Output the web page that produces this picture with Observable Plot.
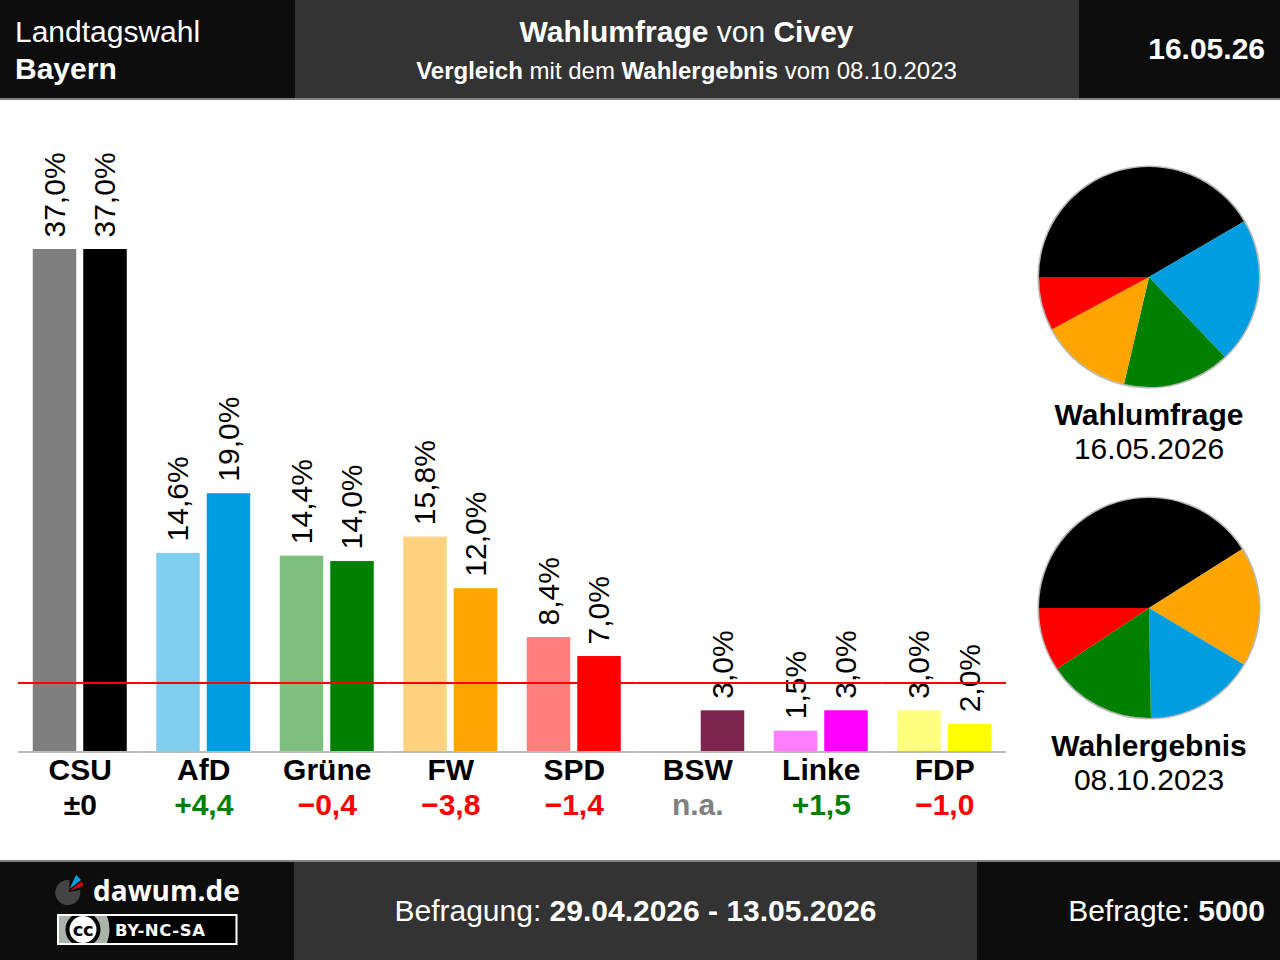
<!DOCTYPE html>
<html lang="de">
<head>
<meta charset="utf-8">
<title>Landtagswahl Bayern</title>
<script src="https://cdn.jsdelivr.net/npm/d3@7"></script>
<script src="https://cdn.jsdelivr.net/npm/@observablehq/plot@0.6"></script>
<style>
  html, body { margin: 0; padding: 0; background: #fff; }
  #page { position: relative; width: 1280px; height: 960px; overflow: hidden; font-family: "Liberation Sans", Arial, sans-serif; color: #000; }
  .panel { position: absolute; box-sizing: border-box; }
  .dark { background: #0d0d0d; }
  .mid { background: #333; }
  .t { position: absolute; white-space: nowrap; font-size: 30px; line-height: 36px; color: #fff; }
  .t.c { transform: translateX(-50%); text-align: center; }
  .t.r { right: 15px; }
  #bars, .pie { position: absolute; }
  #bars svg, .pie svg { display: block; }
</style>
</head>
<body>
<div id="page">
  <div class="panel dark" style="left:0;top:0;width:295px;height:98px"></div>
  <div class="panel mid" style="left:295px;top:0;width:784px;height:98px"></div>
  <div class="panel dark" style="left:1079px;top:0;width:201px;height:98px"></div>
  <div class="panel" style="left:0;top:98px;width:1280px;height:2px;background:#808080"></div>

  <div class="t" style="left:15px;top:14px">Landtagswahl</div>
  <div class="t" style="left:15px;top:51px"><b>Bayern</b></div>
  <div class="t c" style="left:686.5px;top:14px"><b>Wahlumfrage</b> von <b>Civey</b></div>
  <div class="t c" style="left:686.5px;top:53px;font-size:24px"><b>Vergleich</b> mit dem <b>Wahlergebnis</b> vom 08.10.2023</div>
  <div class="t r" style="top:31px"><b>16.05.26</b></div>

  <div id="bars" style="left:0;top:100px"></div>
  <div id="pieNow" class="pie" style="left:1034px;top:162px"></div>
  <div id="pieThen" class="pie" style="left:1034px;top:493px"></div>

  <div class="t c" style="left:1149px;top:397px;color:#000"><b>Wahlumfrage</b></div>
  <div class="t c" style="left:1149px;top:431px;color:#000">16.05.2026</div>
  <div class="t c" style="left:1149px;top:728px;color:#000"><b>Wahlergebnis</b></div>
  <div class="t c" style="left:1149px;top:762px;color:#000">08.10.2023</div>

  <div class="panel" style="left:0;top:860px;width:1280px;height:2px;background:#808080"></div>
  <div class="panel dark" style="left:0;top:862px;width:294px;height:98px"></div>
  <div class="panel mid" style="left:294px;top:862px;width:683px;height:98px"></div>
  <div class="panel dark" style="left:977px;top:862px;width:303px;height:98px"></div>

  <svg style="position:absolute;left:0;top:862px" width="294" height="98" viewBox="0 862 294 98">
    <defs><clipPath id="badge"><rect x="59" y="916" width="176.5" height="27"/></clipPath></defs>
    <path d="M69 892 L69.5 880.2 A12.5 12.5 0 1 0 80 890 Z" fill="#444"/>
    <path d="M69.5 889 L76 875 L81 880 Z" fill="#009ee0"/>
    <path d="M69.5 891 L81.5 881.5 L83.5 885.5 Z" fill="#e3000f"/>
    <text x="93" y="901" font-family="'Open Sans'" font-weight="700" font-size="28" fill="#fff">dawum.de</text>
    <rect x="58" y="915" width="178.5" height="29" fill="#000" stroke="#fff" stroke-width="2"/>
    <g clip-path="url(#badge)">
      <path d="M59 916 H107 Q112 929.5 107 943 H59 Z" fill="#aab2ab"/>
      <circle cx="83" cy="929.5" r="17.5" fill="#000"/>
      <circle cx="83" cy="929.5" r="13.5" fill="#fff"/>
    </g>
    <text x="83" y="935.5" text-anchor="middle" font-family="DejaVu Sans" font-weight="700" font-size="18" letter-spacing="-0.5" fill="#000">cc</text>
    <text x="115" y="936" font-family="DejaVu Sans" font-weight="700" font-size="16.5" letter-spacing="0.6" fill="#fff">BY-NC-SA</text>
  </svg>

  <div class="t c" style="left:635.5px;top:893px">Befragung: <b>29.04.2026 - 13.05.2026</b></div>
  <div class="t r" style="top:893px">Befragte: <b>5000</b></div>
</div>

<script>
const parties = ["CSU", "AfD", "Grüne", "FW", "SPD", "BSW", "Linke", "FDP"];
const colors = ["#000000", "#009ee0", "#008000", "#ffa500", "#ff0000", "#7d254f", "#ff00ff", "#ffff00"];
const result2023 = [37.0, 14.6, 14.4, 15.8, 8.4, null, 1.5, 3.0];
const poll2026 = [37.0, 19.0, 14.0, 12.0, 7.0, 3.0, 3.0, 2.0];
const changes = ["±0", "+4,4", "−0,4", "−3,8", "−1,4", "n.a.", "+1,5", "−1,0"];
const changeColors = ["#000000", "#008000", "#ff0000", "#ff0000", "#ff0000", "#808080", "#008000", "#ff0000"];
const threshold = 5;
const pieNowOrder = ["CSU", "AfD", "Grüne", "FW", "SPD"];
const pieThenOrder = ["CSU", "FW", "AfD", "Grüne", "SPD"];

const fontFamily = '"Liberation Sans", Arial, sans-serif';
const colorOf = new Map(parties.map((p, i) => [p, colors[i]]));
const rows = parties.flatMap((party, i) => [
  {party, series: "2023", value: result2023[i], color: colors[i], opacity: 0.5},
  {party, series: "2026", value: poll2026[i], color: colors[i], opacity: 1}
]).filter(d => d.value != null);
const footer = parties.map((party, i) => ({party, change: changes[i], color: changeColors[i]}));
const comma = v => v.toFixed(1).replace(".", ",") + "%";

const bars = Plot.plot({
  width: 1020, height: 760,
  marginLeft: 18, marginRight: 14, marginTop: 0, marginBottom: 109,
  style: {fontFamily, background: "transparent", overflow: "visible"},
  fx: {domain: parties, padding: 0, round: false, axis: null, label: null},
  x: {domain: ["2023", "2026"], paddingInner: 7 / 50.5, paddingOuter: 14.75 / 50.5, round: false, axis: null},
  y: {domain: [0, 37], range: [651, 149], axis: null},
  marks: [
    Plot.barY(rows, {fx: "party", x: "series", y: "value", fill: "color", fillOpacity: "opacity"}),
    Plot.text(rows, {fx: "party", x: "series", y: "value", text: d => comma(d.value), rotate: -90, textAnchor: "start", lineAnchor: "middle", dy: -12, fontSize: 30, fill: "#000"}),
    Plot.text(footer, {fx: "party", text: "party", frameAnchor: "bottom", lineAnchor: "middle", dy: 19, fontSize: 30, fontWeight: 700, fill: "#000"}),
    Plot.text(footer, {fx: "party", text: "change", frameAnchor: "bottom", lineAnchor: "middle", dy: 54, fontSize: 30, fontWeight: 700, fill: "color"}),
    Plot.ruleY([0], {stroke: "#bbbbbb", strokeWidth: 2, dy: 0.5}),
    Plot.ruleY([threshold], {stroke: "#ff0000", strokeWidth: 2, dy: -0.66})
  ]
});
document.getElementById("bars").append(bars);

// The slices come out of Plot's stack and x scale; the render step bends each
// stacked interval round the circle, starting at the left and running clockwise.
function pie(order, values) {
  const slices = order.map(party => ({party, value: values[parties.indexOf(party)], color: colorOf.get(party)}));
  const total = d3.sum(slices, d => d.value);
  const size = 230, radius = 110;
  return Plot.plot({
    width: size, height: size, margin: 0,
    style: {background: "transparent", overflow: "visible"},
    x: {domain: [0, total], range: [0, size], axis: null},
    y: {axis: null},
    marks: [
      Plot.dot([0], {frameAnchor: "middle", dx: -0.5, dy: -0.5, r: radius + 0.6, stroke: "#b8b8b8", strokeWidth: 2, fill: "#fff"}),
      Plot.barX(slices, Plot.stackX({
        x: "value", fill: "color", order: null,
        render(index, scales, channels, dimensions, context) {
          const arc = d3.arc().innerRadius(0).outerRadius(radius);
          const turn = px => px / size * 2 * Math.PI - Math.PI / 2;
          const g = d3.select(context.document.createElementNS("http://www.w3.org/2000/svg", "g"))
            .attr("transform", `translate(${size / 2},${size / 2})`);
          for (const i of index) {
            g.append("path")
              .attr("d", arc({startAngle: turn(channels.x1[i]), endAngle: turn(channels.x2[i])}))
              .attr("fill", channels.fill[i]);
          }
          return g.node();
        }
      }))
    ]
  });
}
document.getElementById("pieNow").append(pie(pieNowOrder, poll2026));
document.getElementById("pieThen").append(pie(pieThenOrder, result2023));
</script>
</body>
</html>
